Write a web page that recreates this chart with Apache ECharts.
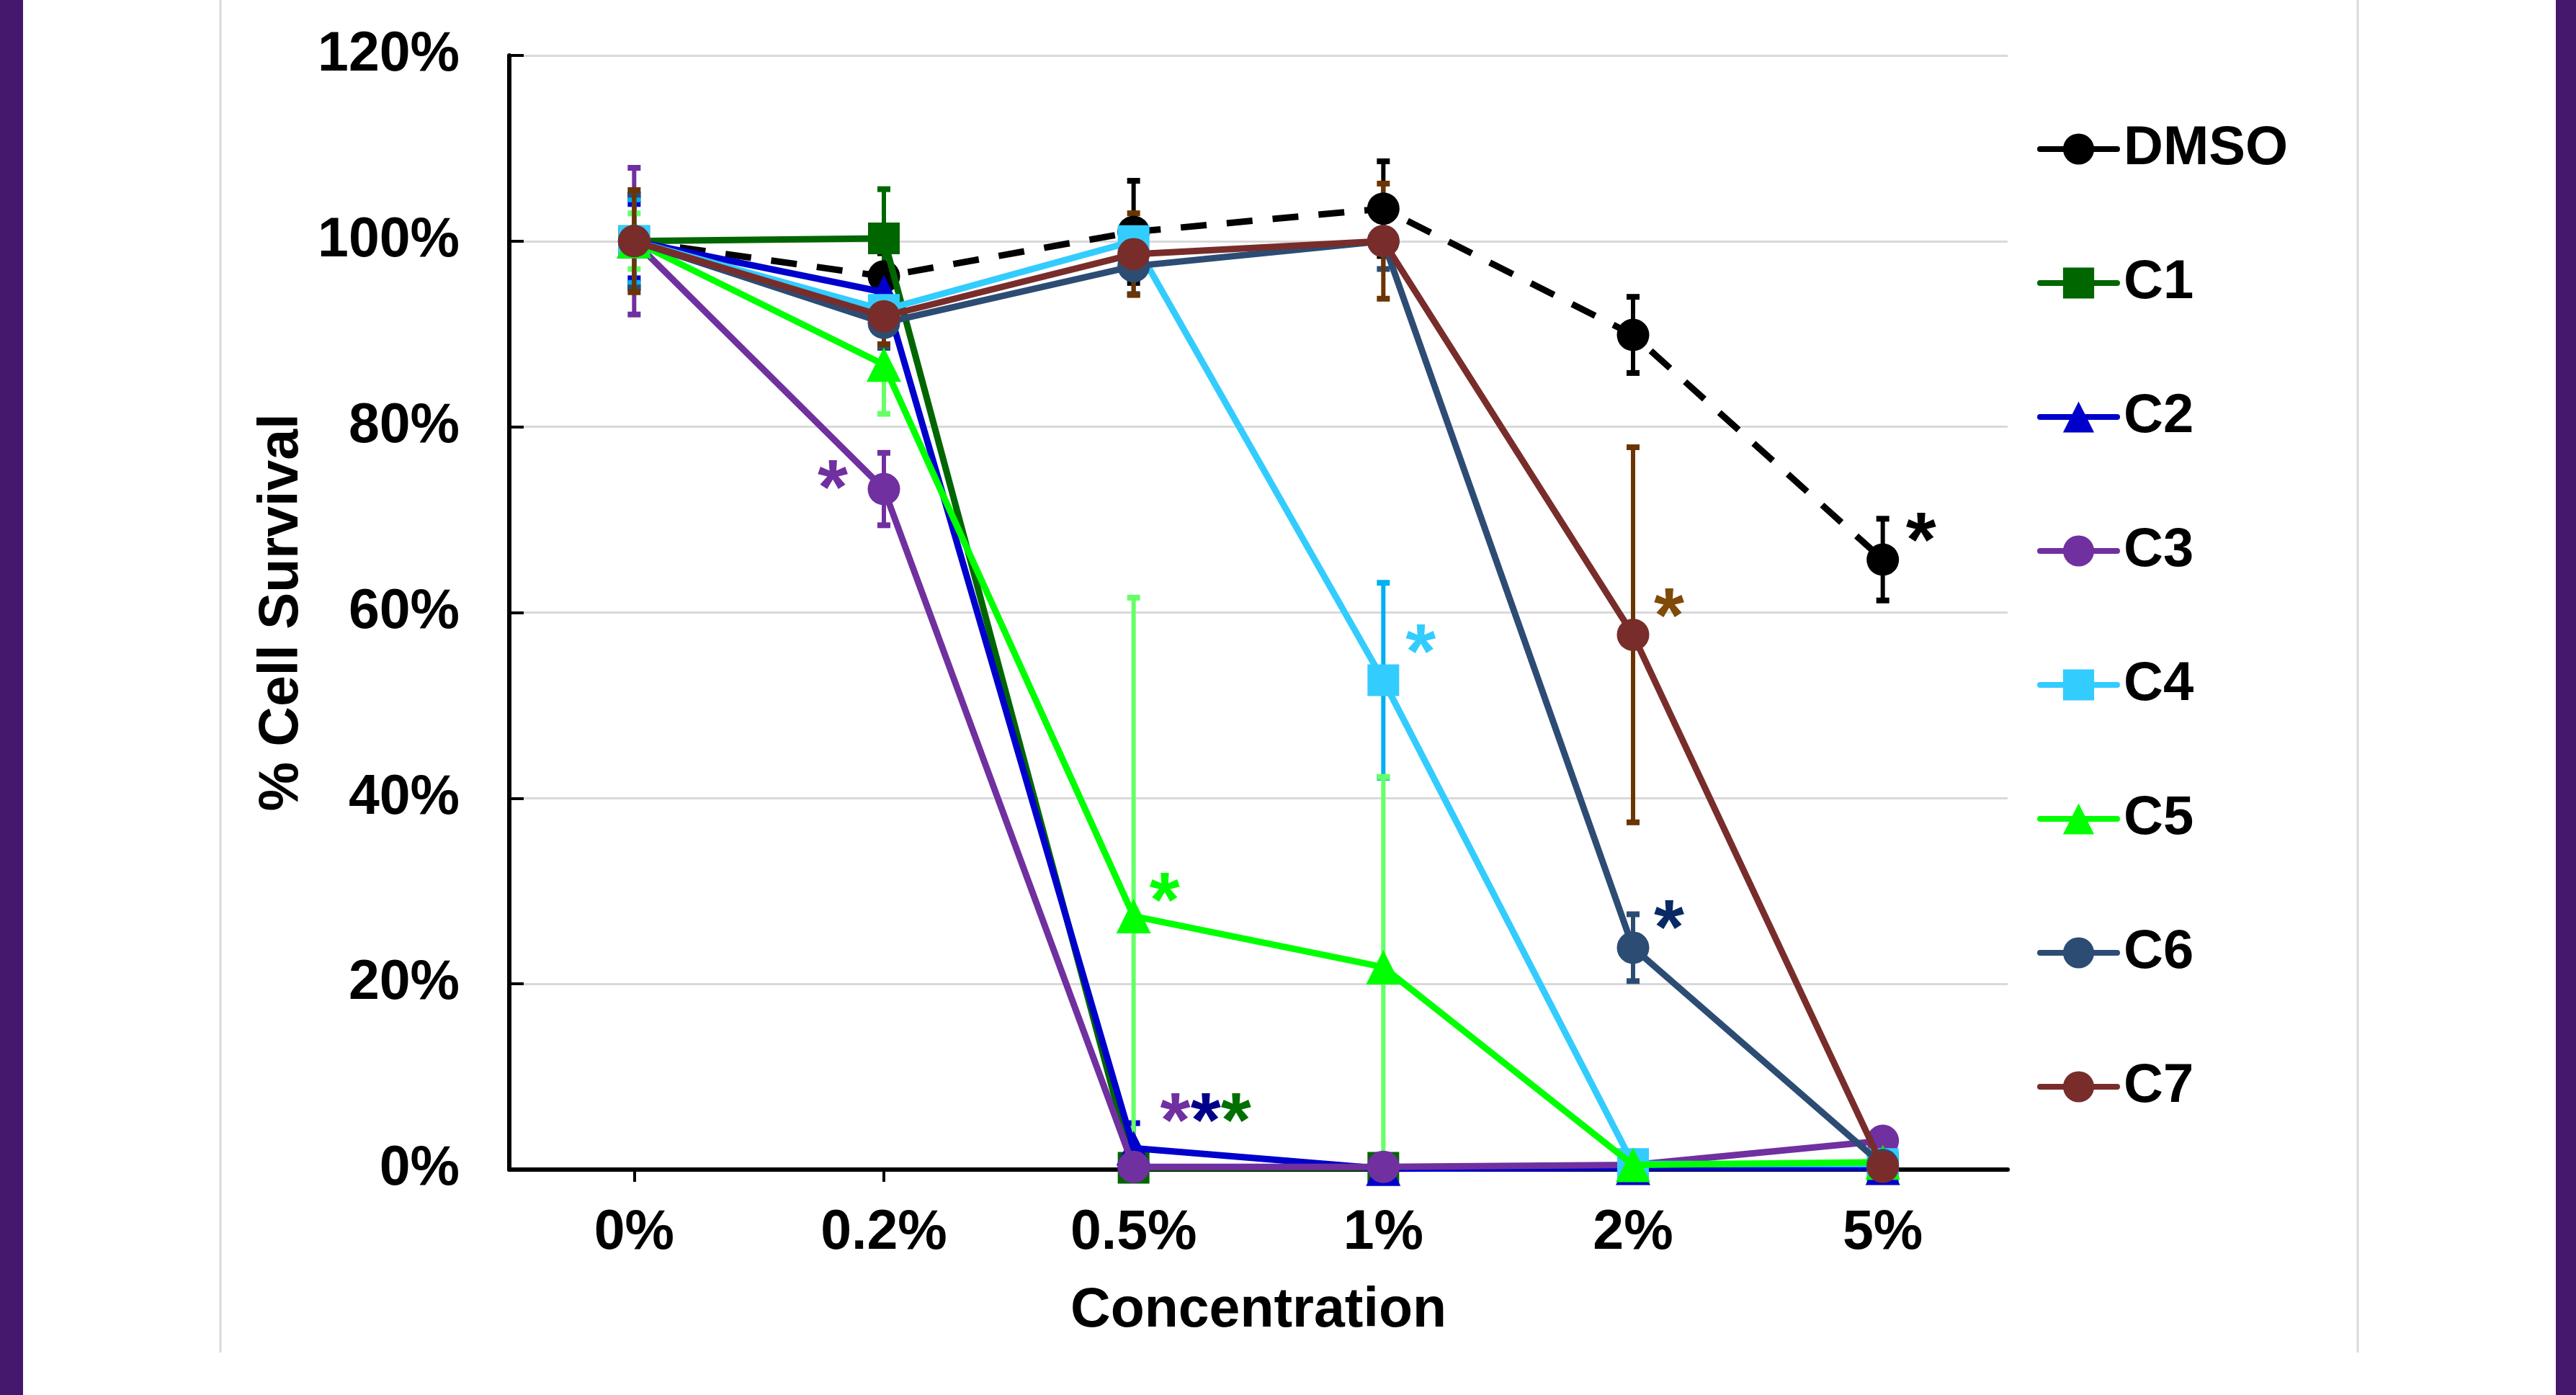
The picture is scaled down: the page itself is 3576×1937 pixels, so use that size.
<!DOCTYPE html>
<html>
<head>
<meta charset="utf-8">
<script src="https://cdn.jsdelivr.net/npm/echarts@6/dist/echarts.min.js"></script>
<style>
  html, body { margin: 0; padding: 0; background: #fff; }
  #main { width: 3576px; height: 1937px; }
</style>
</head>
<body>
<div id="main"></div>
<script>
// concentrations and % survival per compound (error = +/- value)
var categories = ['0%', '0.2%', '0.5%', '1%', '2%', '5%'];
var dmso    = [100, 96.2, 101, 103.5, 89.9, 65.7];
var dmsoErr = [5, 2.5, 5.5, 5.1, 4.1, 4.4];
var c1    = [100, 100.3, 0.2, 0.2, 0.2, 0.2];
var c1Err = [4.5, 5.3, 0, 0, 0, 0];
var c2    = [100, 94.5, 2.3, 0.1, 0.2, 0.2];
var c2Err = [4, 3, 2.7, 0, 0, 0];
var c3    = [100, 73.3, 0.3, 0.3, 0.5, 3.1];
var c3Err = [7.9, 3.9, 0, 0, 0, 0];
var c4    = [100, 92.6, 100, 52.7, 0.6, 0.6];
var c4Err = [4.5, 2, 0, 10.5, 0, 0];
var c5    = [100, 86.7, 27.3, 21.8, 0.5, 0.8];
var c5Err = [3, 5.3, 34.3, 20.5, 0, 0];
var c6    = [100, 91.2, 97.3, 100, 23.9, 0.5];
var c6Err = [5, 2.7, 3, 3, 3.6, 0];
var c7    = [100, 91.9, 98.6, 100, 57.6, 0.3];
var c7Err = [5.5, 3, 4.4, 6.2, 20.2, 0];
var yTicks = [0, 20, 40, 60, 80, 100, 120];

// significance marks: which series / concentration they belong to
var sigSeries = ['C3', 'C5', 'C2', 'C4', 'C7', 'C6', 'DMSO'];
var sigCat    = ['0.2%', '0.5%', '0.5%', '1%', '2%', '2%', '5%'];
var sigText   = ['*', '*', '***', '*', '*', '*', '*'];

var names = ['DMSO', 'C1', 'C2', 'C3', 'C4', 'C5', 'C6', 'C7'];
var vals = [dmso, c1, c2, c3, c4, c5, c6, c7];
var errs = [dmsoErr, c1Err, c2Err, c3Err, c4Err, c5Err, c6Err, c7Err];

// styles
var colors    = ['#000000', '#006600', '#0000cc', '#7030a0', '#33ccff', '#00ff00', '#2c4c74', '#782d2b'];
var errColors = ['#000000', '#006600', '#0000cc', '#7030a0', '#00b0f0', '#66ff66', '#2c4c74', '#6b3503'];
var symbols   = ['circle', 'rect', 'triangle', 'circle', 'rect', 'triangle', 'circle', 'circle'];
var sizes     = [45, 44, 48, 45, 44, 48, 45, 45];
var sigColors = ['#7030a0', '#00ff00', null, '#33ccff', '#804a08', '#0a2a66', '#000000'];
var sigOffset = [[-71, 4], [43, -16], [100, -32], [52, -33], [50, -20], [50, -22], [53, -21]];

var font = '"Liberation Sans", Arial, sans-serif';

var myChart = echarts.init(document.getElementById('main'), null, { renderer: 'canvas' });

var series = [];
// error bars first, under the lines
names.forEach(function (n, i) {
  var data = vals[i].map(function (v, j) { return [j, v, errs[i][j]]; })
    .filter(function (d) { return d[2] > 0; });
  series.push({
    name: n + ' err',
    type: 'custom',
    z: 1,
    silent: true,
    clip: true,
    data: data,
    encode: { x: 0, y: 1 },
    renderItem: function (params, api) {
      var x = api.value(0), v = api.value(1), e = api.value(2);
      var top = api.coord([x, v + e]);
      var bot = api.coord([x, v - e]);
      var cw = 9;
      var st = { stroke: errColors[i], lineWidth: 6 };
      return {
        type: 'group',
        children: [
          { type: 'line', shape: { x1: top[0], y1: top[1], x2: bot[0], y2: bot[1] }, style: st },
          { type: 'line', shape: { x1: top[0] - cw, y1: top[1], x2: top[0] + cw, y2: top[1] }, style: { stroke: errColors[i], lineWidth: 8 } },
          { type: 'line', shape: { x1: bot[0] - cw, y1: bot[1], x2: bot[0] + cw, y2: bot[1] }, style: { stroke: errColors[i], lineWidth: 8 } }
        ]
      };
    }
  });
});

names.forEach(function (n, i) {
  series.push({
    name: n,
    type: 'line',
    z: 2 + i,
    data: vals[i],
    symbol: symbols[i],
    symbolSize: sizes[i],
    itemStyle: { color: colors[i] },
    lineStyle: { color: colors[i], width: 9, type: i === 0 ? [36, 28] : 'solid' },
    emphasis: { disabled: true }
  });
});

// asterisks, anchored on the data point they refer to
series.push({
  name: 'sig',
  type: 'scatter',
  z: 20,
  silent: true,
  symbolSize: 0,
  itemStyle: { opacity: 1 },
  data: sigSeries.map(function (s, k) {
    var si = names.indexOf(s);
    var ci = categories.indexOf(sigCat[k]);
    var lbl = {
      show: true,
      position: 'inside',
      offset: sigOffset[k],
      fontSize: 108,
      fontWeight: 'bold',
      fontFamily: font,
      lineHeight: 108,
      opacity: 1,
      color: sigColors[k] || '#000'
    };
    if (sigText[k] === '***') {
      lbl.formatter = '{a|*}{b|*}{c|*}';
      lbl.rich = {
        a: { color: '#7030a0', fontSize: 108, fontWeight: 'bold', fontFamily: font, lineHeight: 108 },
        b: { color: '#00008b', fontSize: 108, fontWeight: 'bold', fontFamily: font, lineHeight: 108 },
        c: { color: '#007000', fontSize: 108, fontWeight: 'bold', fontFamily: font, lineHeight: 108 }
      };
    } else {
      lbl.formatter = sigText[k];
    }
    return { value: [ci, vals[si][ci]], label: lbl, itemStyle: { opacity: 1 } };
  })
});

var option = {
  backgroundColor: '#ffffff',
  animation: false,
  textStyle: { fontFamily: font },
  grid: { left: 707, right: 789, top: 77, bottom: 313, containLabel: false },
  legend: {
    orient: 'vertical',
    left: 2828,
    top: 169,
    padding: 0,
    itemWidth: 107,
    itemHeight: 54,
    itemGap: 110,
    selectedMode: false,
    textStyle: { fontSize: 76, fontWeight: 'bold', color: '#000', fontFamily: font, lineHeight: 76, padding: [0, 0, 0, 4] },
    data: names.map(function (n, i) {
      return { name: n, lineStyle: { type: 'solid', width: 8, cap: 'round' } };
    })
  },
  xAxis: {
    type: 'category',
    data: categories,
    boundaryGap: true,
    name: 'Concentration',
    nameLocation: 'middle',
    nameGap: 158,
    nameTextStyle: { fontSize: 77, fontWeight: 'bold', color: '#000', fontFamily: font, lineHeight: 77 },
    axisLine: { lineStyle: { color: '#000', width: 6 } },
    axisTick: { show: true, alignWithLabel: true, length: 17, lineStyle: { color: '#000', width: 4 } },
    axisLabel: { fontSize: 77, fontWeight: 'bold', color: '#000', fontFamily: font, margin: 50, lineHeight: 77 },
    splitLine: { show: false }
  },
  yAxis: {
    type: 'value',
    min: yTicks[0],
    max: yTicks[yTicks.length - 1],
    interval: yTicks[1] - yTicks[0],
    name: '% Cell Survival',
    nameLocation: 'middle',
    nameGap: 273,
    nameRotate: 90,
    nameTextStyle: { fontSize: 77, fontWeight: 'bold', color: '#000', fontFamily: font, lineHeight: 77 },
    axisLine: { show: true, lineStyle: { color: '#000', width: 6 } },
    axisTick: { show: true, inside: true, length: 20, lineStyle: { color: '#000', width: 4 } },
    axisLabel: { fontSize: 77, fontWeight: 'bold', color: '#000', fontFamily: font, margin: 69, formatter: '{value}%' },
    splitLine: { show: true, lineStyle: { color: '#d9d9d9', width: 3 } }
  },
  graphic: [
    { type: 'rect', shape: { x: 0, y: 0, width: 32, height: 1937 }, style: { fill: '#45176d' }, silent: true },
    { type: 'rect', shape: { x: 3548, y: 0, width: 28, height: 1937 }, style: { fill: '#45176d' }, silent: true },
    { type: 'line', shape: { x1: 306, y1: 0, x2: 306, y2: 1878 }, style: { stroke: '#d9d9d9', lineWidth: 3 }, silent: true },
    { type: 'line', shape: { x1: 3273, y1: 0, x2: 3273, y2: 1878 }, style: { stroke: '#d9d9d9', lineWidth: 3 }, silent: true }
  ],
  series: series
};

myChart.setOption(option);
</script>
</body>
</html>
